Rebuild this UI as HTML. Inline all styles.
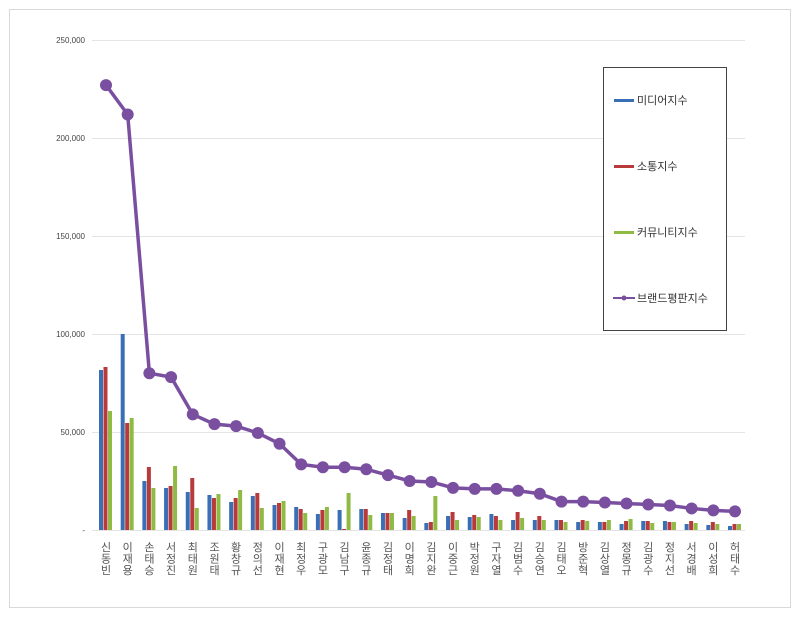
<!DOCTYPE html>
<html><head><meta charset="utf-8"><style>
body{margin:0;background:#fff}
svg{display:block;font-family:"Liberation Sans","Noto Sans CJK KR",sans-serif}
</style></head><body>
<svg id="s" width="800" height="618" viewBox="0 0 800 618">
<rect x="0" y="0" width="800" height="618" fill="#fff"/>
<rect x="9.5" y="9.5" width="781" height="598" fill="none" stroke="#d9d9d9"/>
<g stroke="#e4e4e4" stroke-width="1">
<line x1="92" y1="40.5" x2="745" y2="40.5"/>
<line x1="92" y1="138.5" x2="745" y2="138.5"/>
<line x1="92" y1="236.5" x2="745" y2="236.5"/>
<line x1="92" y1="334.5" x2="745" y2="334.5"/>
<line x1="92" y1="432.5" x2="745" y2="432.5"/>
<line x1="92" y1="530.5" x2="745" y2="530.5"/>
</g>
<g font-size="8" fill="#444" text-anchor="end">
<text x="85" y="43">250,000</text>
<text x="85" y="141">200,000</text>
<text x="85" y="239">150,000</text>
<text x="85" y="337">100,000</text>
<text x="85" y="435">50,000</text>
<text x="85" y="533">-</text>
</g>
<g id="bars"></g>
<g id="line"></g>
<g font-size="11" fill="#555" text-anchor="middle" id="labels">
<text x="106.0" y="551"><tspan x="106.0">신</tspan><tspan x="106.0" dy="11.5">동</tspan><tspan x="106.0" dy="11.5">빈</tspan></text>
<text x="127.7" y="551"><tspan x="127.7">이</tspan><tspan x="127.7" dy="11.5">재</tspan><tspan x="127.7" dy="11.5">용</tspan></text>
<text x="149.4" y="551"><tspan x="149.4">손</tspan><tspan x="149.4" dy="11.5">태</tspan><tspan x="149.4" dy="11.5">승</tspan></text>
<text x="171.1" y="551"><tspan x="171.1">서</tspan><tspan x="171.1" dy="11.5">정</tspan><tspan x="171.1" dy="11.5">진</tspan></text>
<text x="192.8" y="551"><tspan x="192.8">최</tspan><tspan x="192.8" dy="11.5">태</tspan><tspan x="192.8" dy="11.5">원</tspan></text>
<text x="214.5" y="551"><tspan x="214.5">조</tspan><tspan x="214.5" dy="11.5">원</tspan><tspan x="214.5" dy="11.5">태</tspan></text>
<text x="236.1" y="551"><tspan x="236.1">황</tspan><tspan x="236.1" dy="11.5">창</tspan><tspan x="236.1" dy="11.5">규</tspan></text>
<text x="257.8" y="551"><tspan x="257.8">정</tspan><tspan x="257.8" dy="11.5">의</tspan><tspan x="257.8" dy="11.5">선</tspan></text>
<text x="279.5" y="551"><tspan x="279.5">이</tspan><tspan x="279.5" dy="11.5">재</tspan><tspan x="279.5" dy="11.5">현</tspan></text>
<text x="301.2" y="551"><tspan x="301.2">최</tspan><tspan x="301.2" dy="11.5">정</tspan><tspan x="301.2" dy="11.5">우</tspan></text>
<text x="322.9" y="551"><tspan x="322.9">구</tspan><tspan x="322.9" dy="11.5">광</tspan><tspan x="322.9" dy="11.5">모</tspan></text>
<text x="344.6" y="551"><tspan x="344.6">김</tspan><tspan x="344.6" dy="11.5">남</tspan><tspan x="344.6" dy="11.5">구</tspan></text>
<text x="366.3" y="551"><tspan x="366.3">윤</tspan><tspan x="366.3" dy="11.5">종</tspan><tspan x="366.3" dy="11.5">규</tspan></text>
<text x="388.0" y="551"><tspan x="388.0">김</tspan><tspan x="388.0" dy="11.5">정</tspan><tspan x="388.0" dy="11.5">태</tspan></text>
<text x="409.7" y="551"><tspan x="409.7">이</tspan><tspan x="409.7" dy="11.5">명</tspan><tspan x="409.7" dy="11.5">희</tspan></text>
<text x="431.4" y="551"><tspan x="431.4">김</tspan><tspan x="431.4" dy="11.5">지</tspan><tspan x="431.4" dy="11.5">완</tspan></text>
<text x="453.0" y="551"><tspan x="453.0">이</tspan><tspan x="453.0" dy="11.5">중</tspan><tspan x="453.0" dy="11.5">근</tspan></text>
<text x="474.7" y="551"><tspan x="474.7">박</tspan><tspan x="474.7" dy="11.5">정</tspan><tspan x="474.7" dy="11.5">원</tspan></text>
<text x="496.4" y="551"><tspan x="496.4">구</tspan><tspan x="496.4" dy="11.5">자</tspan><tspan x="496.4" dy="11.5">열</tspan></text>
<text x="518.1" y="551"><tspan x="518.1">김</tspan><tspan x="518.1" dy="11.5">범</tspan><tspan x="518.1" dy="11.5">수</tspan></text>
<text x="539.8" y="551"><tspan x="539.8">김</tspan><tspan x="539.8" dy="11.5">승</tspan><tspan x="539.8" dy="11.5">연</tspan></text>
<text x="561.5" y="551"><tspan x="561.5">김</tspan><tspan x="561.5" dy="11.5">태</tspan><tspan x="561.5" dy="11.5">오</tspan></text>
<text x="583.2" y="551"><tspan x="583.2">방</tspan><tspan x="583.2" dy="11.5">준</tspan><tspan x="583.2" dy="11.5">혁</tspan></text>
<text x="604.9" y="551"><tspan x="604.9">김</tspan><tspan x="604.9" dy="11.5">상</tspan><tspan x="604.9" dy="11.5">열</tspan></text>
<text x="626.6" y="551"><tspan x="626.6">정</tspan><tspan x="626.6" dy="11.5">몽</tspan><tspan x="626.6" dy="11.5">규</tspan></text>
<text x="648.3" y="551"><tspan x="648.3">김</tspan><tspan x="648.3" dy="11.5">광</tspan><tspan x="648.3" dy="11.5">수</tspan></text>
<text x="669.9" y="551"><tspan x="669.9">정</tspan><tspan x="669.9" dy="11.5">지</tspan><tspan x="669.9" dy="11.5">선</tspan></text>
<text x="691.6" y="551"><tspan x="691.6">서</tspan><tspan x="691.6" dy="11.5">경</tspan><tspan x="691.6" dy="11.5">배</tspan></text>
<text x="713.3" y="551"><tspan x="713.3">이</tspan><tspan x="713.3" dy="11.5">성</tspan><tspan x="713.3" dy="11.5">희</tspan></text>
<text x="735.0" y="551"><tspan x="735.0">허</tspan><tspan x="735.0" dy="11.5">태</tspan><tspan x="735.0" dy="11.5">수</tspan></text>
</g>
<rect x="603.5" y="67.5" width="123" height="263" fill="#fff" stroke="#444"/>
<rect x="614" y="99" width="20" height="3" fill="#3a6fb5"/>
<rect x="614" y="165" width="20" height="3" fill="#b83a3a"/>
<rect x="614" y="231" width="20" height="3" fill="#8fba44"/>
<line x1="613" y1="298" x2="635" y2="298" stroke="#7a4fa0" stroke-width="2"/>
<circle cx="624" cy="298" r="2.5" fill="#7a4fa0"/>
<g font-size="11" fill="#333">
<text x="637" y="104">미디어지수</text>
<text x="637" y="170">소통지수</text>
<text x="637" y="236">커뮤니티지수</text>
<text x="637" y="302">브랜드평판지수</text>
</g>
</svg>
<script>
var B=[[160,163,119],[196,107,112],[49,63,42],[42,44,64],[38,52,22],[35,32,36],[28,32,40],[34,37,22],[25,27,29],[23,21,17],[16,20,23],[20,1,37],[21,21,15],[17,17,17],[12,20,14],[7,8,34],[14,18,10],[13,15,13],[16,14,10],[10,18,12],[10,14,10],[10,10,8],[8,10,9],[8,8,10],[6,9,11],[9,9,7],[9,8,8],[6,9,7],[5,8,6],[4,6,6]];
var L=[227,212,80,78,59,54,53,49.5,44,33.5,32,32,31,28,25,24.5,21.5,21,21,20,18.5,14.5,14.5,14,13.5,13,12.5,11,10,9.5];
var C=["#3a6fb5","#b83a3a","#8fba44"],ns="http://www.w3.org/2000/svg";
var gb=document.getElementById("bars"),gl=document.getElementById("line");
var pts=[];
for(var i=0;i<30;i++){var x=106+21.69*i;
for(var k=0;k<3;k++){var r=document.createElementNS(ns,"rect");var h=B[i][k];
r.setAttribute("x",x-7+k*4.5);r.setAttribute("y",530-h);r.setAttribute("width",4);r.setAttribute("height",h);r.setAttribute("fill",C[k]);gb.appendChild(r);}
pts.push(x+","+(530-L[i]*1.96));}
var p=document.createElementNS(ns,"polyline");p.setAttribute("points",pts.join(" "));p.setAttribute("fill","none");p.setAttribute("stroke","#7a4fa0");p.setAttribute("stroke-width","3.5");gl.appendChild(p);
pts.forEach(function(s){var a=s.split(",");var c=document.createElementNS(ns,"circle");c.setAttribute("cx",a[0]);c.setAttribute("cy",a[1]);c.setAttribute("r",6);c.setAttribute("fill","#7a4fa0");gl.appendChild(c);});
</script>
</body></html>
